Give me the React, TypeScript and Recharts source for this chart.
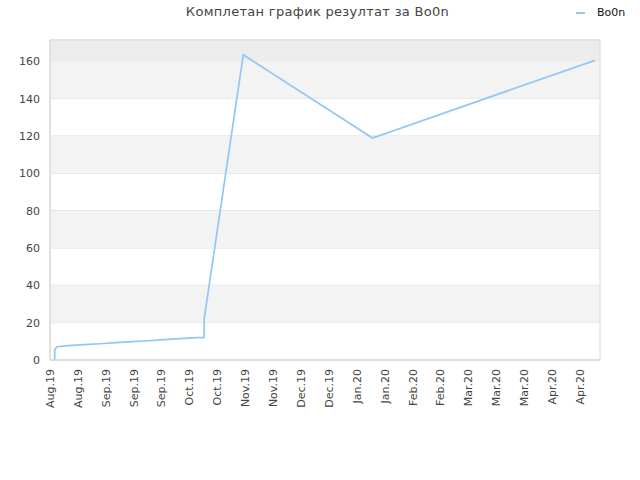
import React from 'react'
import { LineChart, Line, XAxis, YAxis, CartesianGrid, ReferenceArea } from 'recharts'

// sample times (UTC) and cumulative result
const pointTimes = [
  '2019-08-06T08:00Z', '2019-08-06T10:00Z', '2019-08-07T12:00Z', '2019-08-13T05:00Z',
  '2019-08-21T05:00Z', '2019-08-29T02:00Z', '2019-09-06T02:00Z', '2019-09-14T07:00Z',
  '2019-09-22T07:00Z', '2019-09-30T07:00Z', '2019-10-08T10:00Z', '2019-10-16T10:00Z',
  '2019-10-20T07:00Z', '2019-10-20T09:00Z', '2019-11-09T00:00Z', '2020-01-12T20:00Z',
  '2020-05-03T12:00Z',
]
const bo0nValues = [0, 5.7, 7.1, 7.7, 8.2, 8.7, 9.3, 9.8, 10.3, 10.9, 11.4, 12.0, 12.0, 22, 163.5, 118.9, 160.5]

const tickDates = [
  '2019-08-04', '2019-08-18', '2019-09-01', '2019-09-15', '2019-09-29', '2019-10-13',
  '2019-10-27', '2019-11-10', '2019-11-24', '2019-12-08', '2019-12-22', '2020-01-05',
  '2020-01-19', '2020-02-02', '2020-02-16', '2020-03-01', '2020-03-15', '2020-03-29',
  '2020-04-12', '2020-04-26',
]
const tickLabels = [
  'Aug.19', 'Aug.19', 'Sep.19', 'Sep.19', 'Sep.19', 'Oct.19', 'Oct.19', 'Nov.19', 'Nov.19',
  'Dec.19', 'Dec.19', 'Jan.20', 'Jan.20', 'Feb.20', 'Feb.20', 'Mar.20', 'Mar.20', 'Mar.20',
  'Apr.20', 'Apr.20',
]
const yTicks = [0, 20, 40, 60, 80, 100, 120, 140, 160]
const xDomain = ['2019-08-04', '2020-05-06']
const yMax = 171.4

const FONT = '"DejaVu Sans", Verdana, sans-serif'
const LINE_COLOR = '#94c6f3'

const chartData = pointTimes.map((t, i) => ({ t: Date.parse(t), value: bo0nValues[i] }))
const xTicks = tickDates.map((d) => Date.parse(d))

function XTick(props: any) {
  const { x, y, payload } = props
  const i = xTicks.indexOf(payload.value)
  const ty = y + 9
  return (
    <text
      x={x}
      y={ty}
      dy="0.35em"
      transform={`rotate(-90 ${x} ${ty})`}
      textAnchor="end"
      fontSize={11}
      fill="#444"
      fontFamily={FONT}
    >
      {tickLabels[i]}
    </text>
  )
}

export default function App() {
  return (
    <div style={{ position: 'absolute', left: 0, top: 0, width: 640, height: 480, background: '#fff', fontFamily: FONT }}>
      <div
        style={{
          position: 'absolute', left: 0, top: 4, width: 635, textAlign: 'center',
          fontSize: 13, lineHeight: '15px', color: '#444', letterSpacing: 0.3,
        }}
      >
        Комплетан график резултат за Bo0n
      </div>
      <div style={{ position: 'absolute', left: 576, top: 12, width: 9, height: 2, background: LINE_COLOR }} />
      <div style={{ position: 'absolute', left: 597, top: 6, fontSize: 11, lineHeight: '13px', color: '#111' }}>
        Bo0n
      </div>
      <LineChart
        width={640}
        height={480}
        data={chartData}
        margin={{ top: 40, right: 40, bottom: 0, left: 0 }}
        style={{ position: 'absolute', left: 0, top: 0 }}
      >
        {yTicks.slice(0, -1).map((v, i) =>
          i % 2 === 1 ? (
            <ReferenceArea key={v} y1={v} y2={yTicks[i + 1]} fill="#f3f3f3" fillOpacity={1} stroke="none" />
          ) : null
        )}
        <ReferenceArea y1={yTicks[yTicks.length - 1]} y2={yMax} fill="#ececec" fillOpacity={1} stroke="none" />
        <CartesianGrid vertical={false} stroke="#dedede" />
        <ReferenceArea
          x1={Date.parse(xDomain[0])}
          x2={Date.parse(xDomain[1])}
          y1={0}
          y2={yMax}
          fill="none"
          stroke="#d8d8d8"
        />
        <XAxis
          dataKey="t"
          type="number"
          domain={[Date.parse(xDomain[0]), Date.parse(xDomain[1])]}
          ticks={xTicks}
          tick={<XTick />}
          tickLine={false}
          tickSize={0}
          tickMargin={0}
          axisLine={{ stroke: '#d8d8d8' }}
          height={120}
          interval={0}
          allowDataOverflow
        />
        <YAxis
          type="number"
          domain={[0, yMax]}
          ticks={yTicks}
          tickLine={false}
          tickSize={0}
          tickMargin={10}
          axisLine={{ stroke: '#d8d8d8' }}
          width={50}
          tick={{ fontSize: 11, fill: '#444', fontFamily: FONT }}
          interval={0}
          allowDataOverflow
        />
        <Line
          type="linear"
          dataKey="value"
          stroke={LINE_COLOR}
          strokeWidth={1.7}
          dot={false}
          isAnimationActive={false}
        />
      </LineChart>
    </div>
  )
}
